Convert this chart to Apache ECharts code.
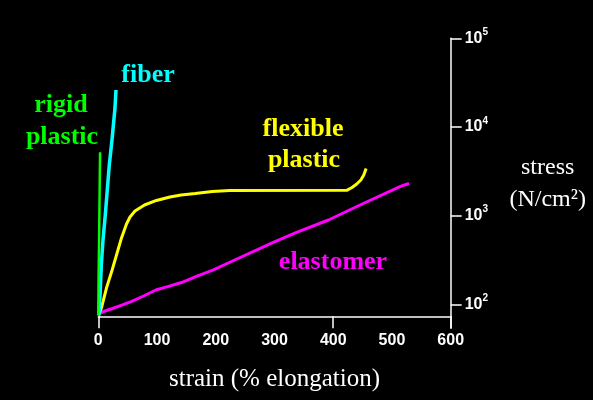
<!DOCTYPE html>
<html>
<head>
<meta charset="utf-8">
<script src="https://cdn.jsdelivr.net/npm/echarts@6/dist/echarts.min.js"></script>
<style>
  html, body { margin: 0; padding: 0; background: #000; }
  #chart { width: 593px; height: 400px; }
</style>
</head>
<body>
<div id="chart"></div>
<script>
// Strain (% elongation) vs stress (N/cm²) for four material classes
const strainTicks = [0, 100, 200, 300, 400, 500, 600];
const strainTickMarks = [0, 400, 600];
const stressTicks = [100, 1000, 10000, 100000];

const rigidStrain = [0, 0.5, 1.5, 3];
const rigidStress = [75, 200, 640, 5200];

const fiberStrain = [1, 3.2, 5.1, 8.0, 11.9, 15.3, 18.7, 23.3, 28.4, 30.1];
const fiberStress = [75, 134, 277, 531, 1016, 1945, 3724, 7130, 16370, 26100];

const flexStrain = [0.3, 5.4, 14, 22.5, 31, 39.5, 48, 54, 62.5, 78.7, 99, 122, 141, 165, 194, 224, 423, 432, 440, 447, 452, 456];
const flexStress = [75, 91, 153, 231, 360, 560, 805, 966, 1127, 1318, 1483, 1622, 1710, 1778, 1873, 1920, 1930, 2077, 2275, 2525, 2871, 3400];

const elastStrain = [0, 11.4, 23, 40, 57, 77, 98, 119.5, 141.7, 167, 196, 223, 298, 337.5, 392, 445.6, 514.5, 529];
const elastStress = [78, 84, 89, 98, 108, 124, 145, 159, 176, 206, 244, 296, 498, 646, 893, 1318, 2133, 2303];

const pairs = (xs, ys) => xs.map((x, i) => [x, ys[i]]);

const serif = '"Liberation Serif", "Times New Roman", serif';
const sans = '"Liberation Sans", Arial, sans-serif';

function lineSeries(xs, ys, color, width) {
  return {
    type: 'line',
    data: pairs(xs, ys),
    showSymbol: false,
    clip: false,
    animation: false,
    lineStyle: { color: color, width: width, cap: 'butt' }
  };
}

function tag(text, x, y, color) {
  return {
    type: 'text',
    x: x, y: y,
    style: {
      text: text,
      fill: color,
      font: 'bold 26px ' + serif,
      align: 'center',
      verticalAlign: 'middle'
    }
  };
}

const chart = echarts.init(document.getElementById('chart'), null, { renderer: 'canvas' });
chart.setOption({
  backgroundColor: '#000',
  animation: false,
  grid: { left: 98.3, right: 142.3, top: 38.3, bottom: 71.7 },
  xAxis: {
    type: 'value',
    min: strainTicks[0],
    max: strainTicks[strainTicks.length - 1],
    interval: 100,
    offset: -12,
    name: 'strain (% elongation)',
    nameLocation: 'middle',
    nameGap: 51,
    nameTextStyle: { color: '#fff', fontFamily: serif, fontSize: 25 },
    axisLine: { onZero: false, lineStyle: { color: '#fff', width: 1.5 } },
    axisTick: { show: true, length: 12, customValues: strainTickMarks, lineStyle: { color: '#fff', width: 1.5 } },
    axisLabel: { color: '#fff', fontFamily: sans, fontWeight: 'bold', fontSize: 16, margin: 16, customValues: strainTicks },
    splitLine: { show: false }
  },
  yAxis: {
    type: 'log',
    position: 'right',
    min: 53.6,
    max: stressTicks[stressTicks.length - 1],
    name: 'stress\n(N/cm²)',
    nameLocation: 'middle',
    nameRotate: 0,
    nameGap: 97,
    nameTextStyle: { color: '#fff', fontFamily: serif, fontSize: 24, lineHeight: 32, align: 'center', verticalAlign: 'middle' },
    axisLine: { show: true, onZero: false, lineStyle: { color: '#fff', width: 1.5 } },
    axisTick: { show: true, length: 11, customValues: stressTicks, lineStyle: { color: '#fff', width: 1.5 } },
    axisLabel: {
      color: '#fff',
      margin: 14,
      customValues: stressTicks,
      formatter: v => '10{s|' + Math.round(Math.log10(v)) + '}',
      fontFamily: sans, fontWeight: 'bold', fontSize: 16,
      rich: { s: { fontFamily: sans, fontSize: 10, color: '#fff', padding: [0, 0, 12, 0] } }
    },
    splitLine: { show: false }
  },
  series: [
    lineSeries(elastStrain, elastStress, '#ff00ff', 3),
    lineSeries(flexStrain, flexStress, '#ffff00', 3),
    lineSeries(fiberStrain, fiberStress, '#00ffff', 3.5),
    lineSeries(rigidStrain, rigidStress, '#00ff00', 2.5)
  ],
  graphic: [
    tag('fiber', 148, 75, '#00ffff'),
    tag('rigid', 61, 105, '#00ff00'),
    tag('plastic', 62, 137, '#00ff00'),
    tag('flexible', 303, 129, '#ffff00'),
    tag('plastic', 304, 160, '#ffff00'),
    tag('elastomer', 333, 262, '#ff00ff')
  ]
});
</script>
</body>
</html>
